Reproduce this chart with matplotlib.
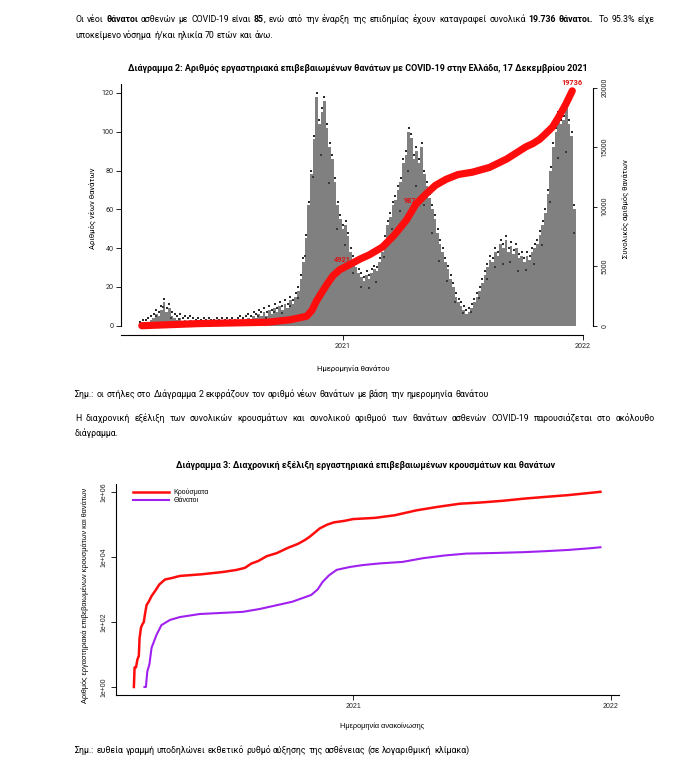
import numpy as np
import pandas as pd
import matplotlib
matplotlib.use("Agg")
import matplotlib.pyplot as plt
import matplotlib.dates as mdates
from matplotlib.ticker import NullLocator, FixedLocator

plt.rcParams['font.family'] = ['Roboto', 'DejaVu Sans']

W, H = 695, 772

# ---------------- Chart 2 data: new deaths (4-day bins, daily level) ----------------
bin_start = "2020-02-26"
bin_days = 4
new_deaths = [
    0, 1, 1, 2, 3, 4, 6, 5, 8, 12, 7, 9, 5, 4, 3, 4, 2, 3, 2, 3,
    2, 1, 2, 1, 2, 1, 2, 1, 1, 2, 1, 2, 1, 2, 1, 2, 1, 2, 3, 2,
    3, 4, 3, 5, 4, 6, 5, 7, 5, 8, 6, 9, 7, 10, 8, 11, 9, 13, 11, 15,
    18, 24, 33, 45, 62, 78, 96, 118, 104, 110, 116, 102, 92, 86, 74, 62, 55, 50, 52, 46,
    38, 34, 30, 27, 25, 23, 26, 24, 27, 29, 28, 33, 38, 44, 52, 56, 62, 65, 70, 74,
    84, 88, 100, 97, 86, 90, 84, 92, 78, 72, 66, 60, 55, 48, 42, 38, 33, 29, 24, 20,
    15, 12, 10, 8, 6, 7, 9, 12, 15, 18, 22, 26, 30, 34, 33, 38, 36, 42, 40, 44,
    38, 41, 37, 40, 35, 36, 33, 36, 34, 38, 40, 42, 47, 52, 58, 68, 80, 92, 100, 108,
    104, 106, 112, 104, 98, 60,
]

# cumulative deaths (red line, right axis)
cum_dates = ["2020-03-01", "2020-05-28", "2020-09-08", "2020-10-13", "2020-11-07",
             "2020-11-15", "2020-11-22", "2020-11-30", "2020-12-08", "2020-12-17",
             "2020-12-27", "2021-01-10", "2021-01-27", "2021-02-10", "2021-03-02",
             "2021-03-20", "2021-04-08", "2021-04-22", "2021-05-08", "2021-05-22",
             "2021-06-07", "2021-06-25", "2021-07-17", "2021-08-12", "2021-09-07",
             "2021-10-07", "2021-10-17", "2021-10-27", "2021-11-03", "2021-11-16",
             "2021-11-26", "2021-12-06", "2021-12-16"]
cum_deaths = [0, 180, 290, 500, 800,
              1300, 2100, 2800, 3500, 4200,
              4700, 5100, 5600, 5950, 6600,
              7600, 8900, 10200, 11100, 11800,
              12300, 12700, 12900, 13300, 14000,
              15050, 15300, 15650, 16000, 16700,
              17600, 18600, 19736]
cum_label_text = ["4921", "9871", "19736"]
cum_label_dates = ["2020-12-31", "2021-04-16", "2021-12-15"]
cum_label_vals = [5150, 10150, 20100]

left_ticks = [0, 20, 40, 60, 80, 100, 120]
right_ticks = [0, 5000, 10000, 15000, 20000]
year_ticks = ["2021-01-01", "2022-01-01"]
year_labels = ["2021", "2022"]

# ---------------- Chart 3 data: cumulative cases and deaths ----------------
cases_dates = ["2020-02-26", "2020-02-27", "2020-02-29", "2020-03-02", "2020-03-04",
               "2020-03-05", "2020-03-07", "2020-03-09", "2020-03-11", "2020-03-13",
               "2020-03-15", "2020-03-18", "2020-03-22", "2020-03-27", "2020-04-02",
               "2020-04-10", "2020-04-20", "2020-05-01", "2020-06-01", "2020-07-01",
               "2020-07-20", "2020-08-01", "2020-08-10", "2020-08-20", "2020-09-01",
               "2020-09-15", "2020-10-01", "2020-10-15", "2020-10-25", "2020-11-01",
               "2020-11-08", "2020-11-15", "2020-11-25", "2020-12-05", "2020-12-20",
               "2021-01-01", "2021-02-01", "2021-03-01", "2021-04-01", "2021-05-01",
               "2021-06-01", "2021-07-01", "2021-08-01", "2021-09-01", "2021-10-01",
               "2021-11-01", "2021-12-01", "2021-12-17"]
cases_vals = [1, 4, 4, 7, 9,
              31, 66, 84, 99, 190,
              331, 418, 624, 892, 1415,
              2011, 2245, 2591, 2918, 3432,
              3964, 4587, 6200, 7472, 10524,
              13000, 19000, 25000, 33000, 42000,
              56000, 75000, 97000, 115000, 128000,
              145000, 158000, 190000, 270000, 345000,
              430000, 470000, 530000, 620000, 700000,
              790000, 920000, 1000000]

deaths_dates = ["2020-03-12", "2020-03-14", "2020-03-16", "2020-03-19", "2020-03-22",
                "2020-03-29", "2020-04-05", "2020-04-17", "2020-05-01", "2020-05-29",
                "2020-07-29", "2020-08-22", "2020-10-07", "2020-11-03", "2020-11-12",
                "2020-11-19", "2020-11-28", "2020-12-09", "2020-12-28", "2021-01-15",
                "2021-02-08", "2021-03-12", "2021-04-10", "2021-05-10", "2021-06-10",
                "2021-07-23", "2021-09-01", "2021-10-01", "2021-11-01", "2021-12-01",
                "2021-12-17"]
deaths_vals = [1, 1, 3, 5, 16,
               40, 80, 115, 141, 175,
               204, 250, 417, 676, 1000,
               1700, 2700, 4000, 4900, 5600,
               6300, 7000, 9100, 11000, 12600,
               13200, 14000, 15000, 16300, 18300,
               19736]
legend_labels = ["Κρούσματα", "Θάνατοι"]

# ---------------- figure ----------------
fig = plt.figure(figsize=(W / 100, H / 100), dpi=100)
renderer = fig.canvas.get_renderer()
TXT = '#000000'
ARIAL = ['Liberation Sans', 'DejaVu Sans']


def fxy(x, y):
    return x / W, 1 - y / H


def measure(s, size, weight):
    t = fig.text(0, 0, s, fontsize=size, fontweight=weight)
    w = t.get_window_extent(renderer).width
    t.remove()
    return w


def draw_line(x0, ybase, runs, size, justify=None):
    chars = [(c, b) for txt, b in runs for c in txt]
    words, gapn, cur, nsp = [], [], [], 0
    for c, b in chars:
        if c == ' ':
            if cur:
                words.append(cur)
                cur = []
            nsp += 1
        else:
            if not cur:
                gapn.append(nsp if words else 0)
                nsp = 0
            if cur and cur[-1][1] == b:
                cur[-1] = (cur[-1][0] + c, b)
            else:
                cur.append((c, b))
    if cur:
        words.append(cur)
    widths = [[measure(p, size, 'bold' if b else 'normal') for p, b in w] for w in words]
    total = sum(sum(w) for w in widths)
    sp = measure('a a', size, 'normal') - measure('aa', size, 'normal')
    if justify is not None and sum(gapn) > 0:
        sp = (justify - x0 - total) / sum(gapn)
    x = x0
    for w, ws, g in zip(words, widths, gapn):
        x += g * sp
        for (p, b), pw in zip(w, ws):
            fig.text(*fxy(x, ybase), p, fontsize=size, va='baseline', ha='left',
                     fontweight='bold' if b else 'normal', color=TXT)
            x += pw


# body font size scaled so that line 2 matches the reference width
line2 = "υποκείμενο νόσημα ή/και ηλικία 70 ετών και άνω."
body = 7.0 * 200 / measure(line2, 7.0, 'normal')

draw_line(75, 22, [("Οι νέοι ", False), ("θάνατοι", True),
                   (" ασθενών με COVID-19 είναι ", False), ("85", True),
                   (", ενώ από την έναρξη της επιδημίας έχουν καταγραφεί συνολικά ", False),
                   ("19.736 θάνατοι.", True), ("  Το 95.3% είχε", False)], body, justify=655)
draw_line(75, 38, [(line2, False)], body)
draw_line(75, 397, [("Σημ.: οι στήλες στο Διάγραμμα 2 εκφράζουν τον αριθμό νέων θανάτων με βάση την ημερομηνία θανάτου", False)], body)
draw_line(75, 421, [("Η διαχρονική εξέλιξη των συνολικών κρουσμάτων και συνολικού αριθμού των θανάτων ασθενών COVID-19 παρουσιάζεται στο ακόλουθο", False)], body, justify=655)
draw_line(75, 436, [("διάγραμμα.", False)], body)
draw_line(75, 753, [("Σημ.: ευθεία γραμμή υποδηλώνει εκθετικό ρυθμό αύξησης της ασθένειας (σε λογαριθμική κλίμακα)", False)], body)

title2 = "Διάγραμμα 2: Αριθμός εργαστηριακά επιβεβαιωμένων θανάτων με COVID-19 στην Ελλάδα, 17 Δεκεμβρίου 2021"
title3 = "Διάγραμμα 3: Διαχρονική εξέλιξη εργαστηριακά επιβεβαιωμένων κρουσμάτων και θανάτων"
t2s = 7.0 * 461 / measure(title2, 7.0, 'bold')
t3s = 7.0 * 380 / measure(title3, 7.0, 'bold')
fig.text(*fxy(357.5, 71), title2, fontsize=t2s, fontweight='bold', ha='center', va='baseline', color=TXT)
fig.text(*fxy(366, 468), title3, fontsize=t3s, fontweight='bold', ha='center', va='baseline', color=TXT)

# ---------------- Chart 2 ----------------
ax = fig.add_axes([121.4 / W, 1 - 335 / H, 468.6 / W, 251.4 / H])
dates = pd.date_range(bin_start, periods=len(new_deaths), freq=f"{bin_days}D")
ax.bar(dates, new_deaths, width=bin_days, align='edge', color='#808080', linewidth=0, zorder=1)
ax.scatter(dates + pd.Timedelta(days=2), np.array(new_deaths) + 2.0, marker='s', s=1.6,
           color='#2b2b2b', linewidths=0, zorder=2)
ax.scatter(dates[::3] + pd.Timedelta(days=1), np.array(new_deaths[::3]) * 0.8, marker='s', s=1.2,
           color='#3a3a3a', linewidths=0, zorder=2)
ax.set_xlim(pd.Timestamp("2020-01-30"), pd.Timestamp("2022-01-12"))
ax.set_ylim(-4.8, 124.8)
ax.set_yticks(left_ticks)
ax.set_yticklabels([str(v) for v in left_ticks])
ax.set_xticks(pd.to_datetime(year_ticks))
ax.set_xticklabels(year_labels)
for s in ['top', 'right']:
    ax.spines[s].set_visible(False)
ax.spines['left'].set_bounds(0, 124.8)
ax.spines['bottom'].set_bounds(mdates.date2num(pd.Timestamp("2020-01-30")),
                               mdates.date2num(pd.Timestamp("2022-01-01")))
for s in ['left', 'bottom']:
    ax.spines[s].set_linewidth(0.8)
ax.tick_params(axis='both', length=3.5, width=0.7, pad=2, colors='#222222', labelsize=5.2)

ax2 = ax.twinx()
ax2.plot(pd.to_datetime(cum_dates), cum_deaths, color='#ff0d0d', lw=5.2,
         solid_capstyle='round', solid_joinstyle='round', zorder=3)
for txt, d, v in zip(cum_label_text, cum_label_dates, cum_label_vals):
    ax2.text(pd.Timestamp(d), v, txt, color='#e01010', fontsize=5.3, fontweight='bold',
             ha='center', va='bottom', zorder=1)
ax2.set_ylim(-781, 20345)
ax2.set_yticks(right_ticks)
ax2.set_yticklabels([str(v) for v in right_ticks])
for s in ['top', 'left', 'bottom']:
    ax2.spines[s].set_visible(False)
ax2.spines['right'].set_position(('outward', 2.2))
ax2.spines['right'].set_bounds(0, 20000)
ax2.spines['right'].set_linewidth(0.8)
ax2.tick_params(axis='y', length=3, width=0.7, pad=3, colors='#222222',
                labelsize=5, labelrotation=90)
for lab in ax2.get_yticklabels():
    lab.set_va('center')

fig.text(*fxy(92, 208), "Αριθμός νέων θανάτων", rotation=90, fontsize=5.5,
         ha='center', va='center', color=TXT)
fig.text(*fxy(625, 209), "Συνολικός αριθμός θανάτων", rotation=90, fontsize=5.5,
         ha='center', va='center', color=TXT)
fig.text(*fxy(353, 371), "Ημερομηνία θανάτου", fontsize=5.5, ha='center', va='baseline', color=TXT)

# ---------------- Chart 3 ----------------
ax3 = fig.add_axes([115.5 / W, 1 - 694.8 / H, 503.3 / W, 210.8 / H])
ax3.plot(pd.to_datetime(cases_dates), cases_vals, color='#ff0d0d', lw=1.8, label=legend_labels[0])
ax3.plot(pd.to_datetime(deaths_dates), deaths_vals, color='#a020f0', lw=1.5, label=legend_labels[1])
ax3.set_yscale('log')
ax3.set_ylim(10 ** -0.24, 10 ** 6.24)
ax3.set_xlim(pd.Timestamp("2020-01-31"), pd.Timestamp("2022-01-12"))
ax3.yaxis.set_major_locator(FixedLocator([1, 1e2, 1e4, 1e6]))
ax3.yaxis.set_minor_locator(NullLocator())
ax3.set_yticklabels(["1e+00", "1e+02", "1e+04", "1e+06"], rotation=90, va='center',
                    family=ARIAL)
ax3.set_xticks(pd.to_datetime(year_ticks))
ax3.set_xticklabels(year_labels, family=ARIAL)
for s in ['top', 'right']:
    ax3.spines[s].set_visible(False)
for s in ['left', 'bottom']:
    ax3.spines[s].set_linewidth(0.8)
ax3.tick_params(axis='both', length=3.5, width=0.7, pad=2.5, colors='#222222', labelsize=5)
ax3.legend(loc='upper left', bbox_to_anchor=(0.025, 1.0), frameon=False,
           handlelength=5.2, handletextpad=0.6, labelspacing=0.15, borderpad=0.2,
           prop={'family': ARIAL, 'size': 5})

fig.text(*fxy(85, 595), "Αριθμός εργαστηριακά επιβεβαιωμένων κρουσμάτων και θανάτων", rotation=90,
         fontsize=5.3, ha='center', va='center', color=TXT, family=ARIAL)
fig.text(*fxy(382, 728), "Ημερομηνία ανακοίνωσης", fontsize=5.3, ha='center', va='baseline',
         color=TXT, family=ARIAL)

fig.savefig("out.png", dpi=100)
